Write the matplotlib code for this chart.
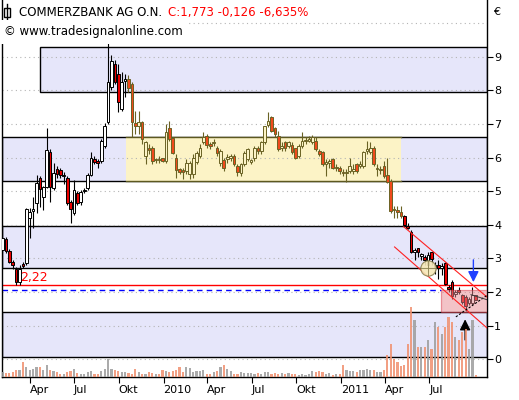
import matplotlib
import numpy as np
import pandas as pd
import matplotlib.pyplot as plt
import matplotlib.dates as mdates
from matplotlib.patches import Rectangle
from matplotlib.lines import Line2D

matplotlib.use("Agg")

# weekly candles, Commerzbank Feb 2009 - Oct 2011
opens = [3.25, 3.57, 3.21, 2.90, 2.68, 2.29, 2.83, 2.87, 4.20, 4.42,
         4.65, 5.40, 4.83, 5.13, 6.17, 5.10, 5.66, 5.63, 5.44, 5.40,
         4.68, 4.35, 4.95, 4.68, 5.00, 5.10, 5.48, 5.97, 5.90, 5.90,
         6.35, 7.06, 8.10, 8.80, 8.50, 7.45, 8.28, 8.34, 8.20, 7.02,
         6.95, 7.05, 6.04, 6.30, 6.28, 5.92, 5.95, 5.98, 5.90, 6.87,
         6.58, 6.00, 5.65, 5.62, 5.60, 5.50, 5.50, 5.86, 6.04, 6.46,
         6.63, 6.40, 6.42, 6.28, 5.85, 5.92, 5.95, 5.98, 6.04, 5.74,
         5.55, 5.80, 5.95, 5.88, 6.00, 6.30, 6.20, 6.46, 6.96, 7.20,
         6.87, 6.64, 6.30, 6.46, 6.35, 6.37, 6.28, 6.04, 6.34, 6.48,
         6.50, 6.46, 6.50, 6.19, 6.16, 5.82, 5.85, 5.95, 5.68, 5.70,
         5.58, 5.55, 5.60, 5.60, 5.80, 5.75, 5.74, 6.19, 6.16, 6.30,
         5.65, 5.62, 5.74, 5.48, 5.30, 4.48, 4.45, 4.37, 4.25, 3.95,
         3.80, 3.20, 3.30, 3.08, 3.05, 2.80, 3.18, 2.70, 2.80, 2.70,
         2.86, 2.15, 2.30, 1.95, 2.05, 1.90, 1.85, 1.67, 1.67, 1.90]
highs = [3.95, 3.65, 3.28, 2.95, 2.75, 2.80, 2.90, 4.50, 4.50, 4.83,
         5.48, 5.45, 5.15, 6.88, 6.25, 5.84, 5.75, 5.68, 5.57, 5.45,
         4.75, 5.34, 5.00, 5.05, 5.08, 5.55, 6.18, 6.05, 5.95, 6.55,
         7.04, 9.60, 9.05, 8.90, 8.80, 8.55, 8.50, 8.45, 8.25, 7.38,
         7.40, 7.08, 6.50, 6.40, 6.35, 6.00, 6.05, 6.00, 7.00, 7.08,
         6.60, 6.10, 5.70, 5.70, 5.95, 5.90, 6.10, 6.20, 6.40, 6.76,
         6.70, 6.45, 6.55, 6.35, 6.25, 5.98, 6.10, 6.10, 6.10, 5.80,
         5.85, 6.20, 6.30, 5.95, 6.35, 6.35, 6.50, 6.95, 7.35, 7.25,
         6.90, 6.79, 6.45, 6.50, 6.50, 6.45, 6.30, 6.40, 6.76, 6.60,
         6.65, 6.68, 6.60, 6.25, 6.20, 5.95, 5.95, 6.00, 5.80, 5.75,
         5.65, 5.65, 5.98, 5.80, 5.85, 5.90, 6.20, 6.50, 6.46, 6.35,
         5.80, 5.75, 5.90, 5.98, 5.35, 4.55, 4.55, 4.55, 4.30, 4.05,
         3.85, 3.30, 3.32, 3.15, 3.10, 3.20, 3.20, 2.90, 2.95, 2.85,
         2.90, 2.20, 2.35, 2.05, 2.15, 1.95, 1.90, 1.85, 2.14, 1.92]
lows = [3.15, 3.15, 2.85, 2.68, 2.22, 2.22, 2.72, 2.80, 3.60, 3.90,
        4.35, 4.53, 4.45, 5.10, 4.68, 5.05, 5.40, 5.40, 5.21, 4.60,
        4.05, 4.30, 4.60, 4.60, 4.95, 5.05, 5.45, 5.80, 5.70, 5.85,
        6.30, 7.00, 8.00, 8.20, 7.36, 7.40, 7.80, 7.95, 6.62, 6.70,
        6.70, 6.40, 5.80, 6.10, 5.80, 5.85, 5.85, 5.88, 5.85, 6.50,
        6.10, 5.40, 5.50, 5.36, 5.50, 5.35, 5.40, 5.80, 6.00, 6.40,
        6.30, 6.25, 6.35, 6.05, 5.75, 5.60, 5.85, 5.90, 5.75, 5.45,
        5.45, 5.75, 5.90, 5.80, 5.90, 6.10, 6.10, 6.40, 6.90, 6.75,
        6.60, 6.20, 6.20, 6.20, 6.30, 6.10, 5.95, 6.00, 6.30, 6.40,
        6.45, 6.40, 6.20, 6.05, 5.75, 5.45, 5.70, 5.65, 5.60, 5.50,
        5.45, 5.27, 5.55, 5.50, 5.55, 5.70, 5.70, 6.10, 6.10, 5.75,
        5.45, 5.50, 5.40, 5.25, 4.35, 4.20, 4.20, 4.20, 3.95, 3.87,
        3.15, 2.95, 3.05, 2.95, 2.80, 2.60, 2.80, 2.55, 2.40, 2.50,
        2.20, 2.00, 1.79, 1.85, 1.95, 1.65, 1.43, 1.60, 1.60, 1.75]
closes = [3.60, 3.21, 2.89, 2.80, 2.29, 2.68, 2.77, 4.48, 4.38, 4.46,
          5.25, 5.07, 5.13, 6.22, 5.13, 5.54, 5.51, 5.48, 5.46, 4.66,
          4.47, 5.04, 4.65, 4.98, 5.03, 5.48, 5.99, 5.88, 5.84, 6.50,
          6.94, 8.25, 8.88, 8.25, 7.65, 8.25, 8.33, 8.07, 7.06, 6.93,
          7.05, 6.55, 6.46, 6.22, 5.90, 5.97, 5.93, 5.90, 6.76, 6.55,
          6.13, 5.62, 5.56, 5.58, 5.83, 5.85, 6.00, 6.13, 6.30, 6.60,
          6.37, 6.34, 6.47, 6.13, 6.19, 5.68, 6.02, 6.05, 5.80, 5.56,
          5.80, 6.13, 6.25, 5.92, 6.30, 6.20, 6.46, 6.93, 7.10, 6.79,
          6.70, 6.25, 6.35, 6.28, 6.45, 6.16, 6.00, 6.34, 6.50, 6.52,
          6.55, 6.60, 6.25, 6.10, 5.80, 5.87, 5.90, 5.70, 5.72, 5.60,
          5.55, 5.58, 5.74, 5.65, 5.60, 5.80, 6.16, 6.26, 6.30, 5.80,
          5.67, 5.65, 5.45, 5.27, 4.40, 4.43, 4.38, 4.25, 4.00, 3.90,
          3.20, 3.25, 3.18, 3.12, 2.95, 3.10, 2.98, 2.80, 2.72, 2.78,
          2.23, 2.10, 1.88, 1.99, 2.00, 1.70, 1.58, 1.80, 1.899, 1.773]
# Mio. Stück
volumes = [50, 40, 40, 50, 70, 70, 150, 100, 70, 80, 100, 100, 70, 120, 70, 60, 50, 30, 30, 50,
           60, 80, 40, 30, 30, 50, 60, 30, 30, 60, 80, 180, 80, 70, 60, 50, 50, 40, 30, 80,
           50, 30, 30, 50, 40, 30, 30, 70, 60, 50,
           60, 70, 100, 50, 100, 90, 50, 60, 60, 70, 30, 30, 50, 60, 100, 120, 80, 60, 30, 30,
           50, 40, 40, 40, 30, 40, 30, 50, 50, 30, 40, 30, 40, 30, 40, 30, 30, 20, 30, 20,
           30, 60, 50, 60, 50, 30, 40, 20, 30, 30, 120, 70, 60, 60, 50, 70,
           70, 80, 70, 70, 50, 50, 70, 220, 330, 180, 150, 110, 120, 330, 700, 570, 300, 300, 300, 370,
           280, 550, 500, 430, 500, 600, 550, 400, 370, 450, 480, 280, 570, 20]

last_week = "2011-10-05"
x_start, x_end = "2009-02-03", "2011-10-28"
tick_dates = pd.date_range("2009-04-01", "2011-07-01", freq="QS")
tick_labels = ["Apr", "Jul", "Okt", "2010", "Apr", "Jul", "Okt", "2011", "Apr", "Jul"]

# support / resistance zones: (start, lower, upper)
zones = [("2009-04-22", 7.96, 9.28), (x_start, 5.31, 6.62),
         (x_start, 2.72, 3.97), (x_start, 0.07, 1.41)]
range_box = ("2009-10-15", "2011-05-04", 5.31, 6.62)
target_box = ("2011-07-26", x_end, 1.41, 2.07)
low_2009 = 2.22
dashed_level = 2.07
channel_upper = [("2011-05-10", 3.94), (x_end, 1.85)]
channel_lower = [("2011-04-21", 3.34), (x_end, 0.93)]
rising_line = [("2011-08-25", 1.26), (x_end, 1.90)]
short_line = [("2011-09-25", 1.92), (x_end, 1.77)]
arrow_down = ("2011-09-30", 3.04, 2.21)
arrow_up = ("2011-09-13", 0.49, 1.27)
circle_mark = ("2011-06-28", 2.70)

dates = pd.date_range(end=last_week, periods=len(closes), freq="W-WED")
x = mdates.date2num(dates)
o = np.array(opens)
h = np.array(highs)
l = np.array(lows)
c = np.array(closes)
up = c >= o


def d(s):
    return mdates.date2num(pd.Timestamp(s))


fig = plt.figure(figsize=(5.19, 4.0), dpi=100)
ax = fig.add_axes([2 / 519, 23 / 400, 485 / 519, 377 / 400])
ax.set_xlim(d(x_start), d(x_end))
ax.set_ylim(-0.53, 10.69)

for start, lo, hi in zones:
    ax.add_patch(Rectangle((d(start), lo), d(x_end) - d(start), hi - lo,
                           facecolor="#e6e6fa", edgecolor="black", lw=1.0, zorder=1))

# Seitwaertsrange (gelb), Kerzen darin in gedaempften Farben
x0, x1, lo, hi = range_box
ax.add_patch(Rectangle((d(x0), lo), d(x1) - d(x0), hi - lo,
                       facecolor="#fcf3c6", edgecolor="none", zorder=1.2))
ax.plot([d(x0), d(x1)], [lo, lo], color="#5c5820", lw=1.0, zorder=1.3)
ax.plot([d(x0), d(x1)], [hi, hi], color="#5c5820", lw=1.0, zorder=1.3)

for lvl in range(0, 11):
    ax.axhline(lvl, color="#b4b4b4", lw=0.8, ls=(0, (1, 3)), zorder=1.5)

ax.axhline(low_2009, color="#ff0000", lw=1.0, zorder=2)
ax.plot([d(x_start), d(target_box[0])], [dashed_level, dashed_level],
        color="#0000ff", lw=1.0, ls=(0, (4, 3)), zorder=2)

# candles
in_box = (x >= d(range_box[0])) & (x <= d(range_box[1]))
edge = np.where(in_box, "#6a6224", "black")
fill = np.where(up, np.where(in_box, "#fcf3c6", "white"), np.where(in_box, "#f04a1c", "#e80000"))
ax.vlines(x, l, h, colors=edge, lw=0.8, zorder=3)
body_lo = np.minimum(o, c)
body_h = np.maximum(np.abs(c - o), 0.03)
ax.bar(x, body_h, bottom=body_lo, width=5.5, color=fill, edgecolor=edge, lw=0.7, zorder=3.5)

x0, x1, lo, hi = target_box
ax.add_patch(Rectangle((d(x0), lo), d(x1) - d(x0), hi - lo,
                       facecolor="#e88890", alpha=0.5, edgecolor="#d83848", lw=0.9, zorder=4))

for pts in (channel_upper, channel_lower):
    ax.plot([d(p[0]) for p in pts], [p[1] for p in pts], color="#ff2020", lw=0.8, zorder=5)
ax.plot([d(p[0]) for p in rising_line], [p[1] for p in rising_line],
        color="black", lw=0.8, ls=(0, (2, 1.5)), zorder=5)
ax.plot([d(p[0]) for p in short_line], [p[1] for p in short_line],
        color="#404040", lw=0.7, zorder=5)

ax.plot(d(circle_mark[0]), circle_mark[1], "o", ms=11, mfc="#f6e9b8", mec="#8a8050",
        mew=0.8, alpha=0.9, zorder=6)
ax.plot(d(circle_mark[0]), circle_mark[1], "+", ms=11, color="#8a8050", mew=0.6, zorder=6)

ax.annotate("", xy=(d(arrow_down[0]), arrow_down[2]), xytext=(d(arrow_down[0]), arrow_down[1]),
            arrowprops=dict(arrowstyle="-|>", color="#2040ff", lw=1.0, mutation_scale=16), zorder=7)
ax.annotate("", xy=(d(arrow_up[0]), arrow_up[2]), xytext=(d(arrow_up[0]), arrow_up[1]),
            arrowprops=dict(arrowstyle="-|>", color="black", lw=1.0, mutation_scale=16), zorder=7)

low_idx = int(np.argmin(l[:20]))
ax.annotate(f"{low_2009:.2f}".replace(".", ","), xy=(x[low_idx], low_2009), xytext=(3, 0.5),
            textcoords="offset points", color="#ff0000", fontsize=9, ha="left", va="bottom", zorder=7)

# volume on its own scale
ax2 = ax.twinx()
ax2.set_ylim(0, 3770)
ax2.bar(x, volumes, width=4.5, color=np.where(up, "#9c9c9c", "#f0906e"), alpha=0.85, zorder=2)
ax2.set_yticks([])
for side in ax2.spines:
    ax2.spines[side].set_visible(False)

# axes styling
ax.spines["top"].set_visible(False)
for side in ("left", "bottom", "right"):
    ax.spines[side].set_linewidth(1.0)
ax.yaxis.tick_right()
ax.yaxis.set_label_position("right")
ax.set_yticks(range(0, 10))
ax.tick_params(axis="y", which="both", left=False, labelleft=False, right=True, labelright=True,
               direction="out", length=4, width=0.8, pad=1, labelsize=8)
ax.set_xticks(mdates.date2num(tick_dates))
ax.set_xticklabels(tick_labels)
ax.tick_params(axis="x", direction="out", length=4, width=0.8, pad=2, labelsize=8)
for tl in ax.get_xticklabels():
    tl.set_horizontalalignment("left")

# header
fig.add_artist(Line2D([7 / 519, 7 / 519], [1 - 21 / 400, 1 - 4 / 400], color="black", lw=1.0))
fig.add_artist(Rectangle((4.5 / 519, 1 - 17 / 400), 5 / 519, 9 / 400, transform=fig.transFigure,
                         facecolor="white", edgecolor="black", lw=1.0))
t1 = fig.text(19 / 519, 1 - 12.5 / 400, "COMMERZBANK AG O.N.", fontsize=8.5, va="center", color="black")
chg = closes[-1] - closes[-2]
pct = chg / closes[-2] * 100
quote = f"C:{closes[-1]:.3f} {chg:.3f} {pct:.3f}%".replace(".", ",")
ax.annotate(quote, xy=(1, 0.5), xycoords=t1, xytext=(4, 0), textcoords="offset points",
            fontsize=8.5, va="center", ha="left", color="#ff0000", annotation_clip=False)
fig.text(4 / 519, 1 - 32 / 400, "\u00a9 www.tradesignalonline.com", fontsize=8.5, va="center",
         bbox=dict(boxstyle="square,pad=0.45", facecolor="white", edgecolor="none"))
fig.text(493 / 519, 1 - 12 / 400, "\u20ac", fontsize=8, va="center", ha="left")

fig.savefig("out.png", dpi=100)
